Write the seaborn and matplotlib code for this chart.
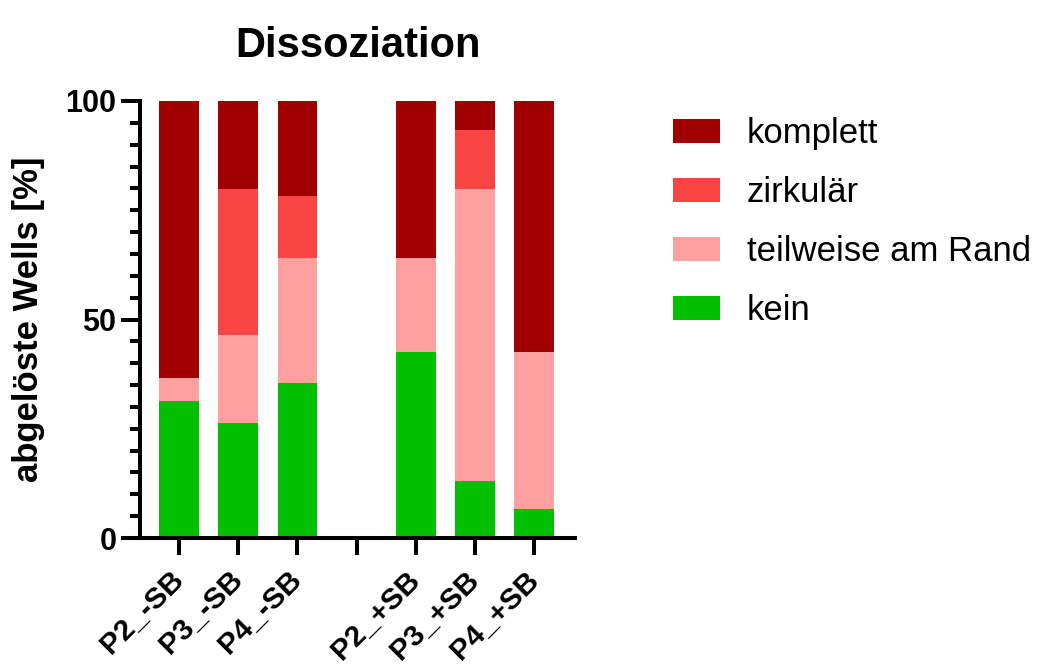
import numpy as np
import pandas as pd
import matplotlib
matplotlib.use('Agg')
import matplotlib.pyplot as plt
import seaborn as sns

# data (percent of wells) --------------------------
groups = ['P2_-SB', 'P3_-SB', 'P4_-SB', ' ', 'P2_+SB', 'P3_+SB', 'P4_+SB']
kein = [31.3, 26.4, 35.5, 0, 42.6, 13.0, 6.7]
teilweise = [5.4, 20.1, 28.5, 0, 21.4, 66.9, 35.9]
zirkulaer = [0, 33.4, 14.3, 0, 0, 13.4, 0]
komplett = [63.3, 20.1, 21.7, 0, 35.9, 6.7, 57.4]

labels = ['komplett', 'zirkulär', 'teilweise am Rand', 'kein']
colors = ['#A00000', '#F94444', '#FFA0A0', '#00C000']

df = pd.DataFrame({'Gruppe': groups, 'kein': kein, 'teilweise am Rand': teilweise,
                   'zirkulär': zirkulaer, 'komplett': komplett})

# cumulative heights for stacking (bottom -> top)
stack = ['kein', 'teilweise am Rand', 'zirkulär', 'komplett']
cum = df[stack].cumsum(axis=1)
cum['Gruppe'] = df['Gruppe']

sns.set_style('ticks')
plt.rcParams['font.family'] = ['Liberation Sans', 'DejaVu Sans']
for k in ['text.color', 'axes.labelcolor', 'axes.edgecolor', 'xtick.color', 'ytick.color']:
    plt.rcParams[k] = 'black'

fig = plt.figure(figsize=(10.41, 6.67), dpi=100)
ax = fig.add_axes([140/1041, 129/667, 435/1041, 437/667])

# draw from the top segment down so that lower segments overlay
for lab, col in zip(labels, colors):
    sns.barplot(data=cum, x='Gruppe', y=lab, order=groups, color=col,
                label=lab, width=0.67, linewidth=0, saturation=1, ax=ax)

ax.set_xlim(-0.66, 6.69)
ax.set_ylim(0, 100)
ax.set_yticks([0, 50, 100])
ax.set_yticks(np.arange(0, 101, 5), minor=True)

sns.despine(ax=ax)
for s in ['left', 'bottom']:
    ax.spines[s].set_linewidth(2.9)
ax.tick_params(axis='y', which='major', length=14, width=2.9, pad=3, labelsize=22)
ax.tick_params(axis='y', which='minor', length=7.5, width=2.9)
ax.tick_params(axis='x', which='major', length=12, width=2.9, pad=15, labelsize=21.5)
for t in ax.get_yticklabels() + ax.get_xticklabels():
    t.set_fontweight('bold')
plt.setp(ax.get_xticklabels(), rotation=45, ha='right', va='center', rotation_mode='anchor')

ax.set_xlabel('')
ax.set_ylabel('abgelöste Wells [%]', fontsize=25, fontweight='bold')
ax.yaxis.set_label_coords(-0.219, 0.5)
ax.set_title('Dissoziation', fontsize=30, fontweight='bold', pad=32)

ax.legend(loc='upper left', bbox_to_anchor=(673/1041, (667-117)/667),
          bbox_transform=fig.transFigure, frameon=False, fontsize=25,
          handlelength=1.35, handleheight=0.66, handletextpad=0.78,
          labelspacing=0.75, borderpad=0, borderaxespad=0)

fig.savefig('out.png', dpi=100)
